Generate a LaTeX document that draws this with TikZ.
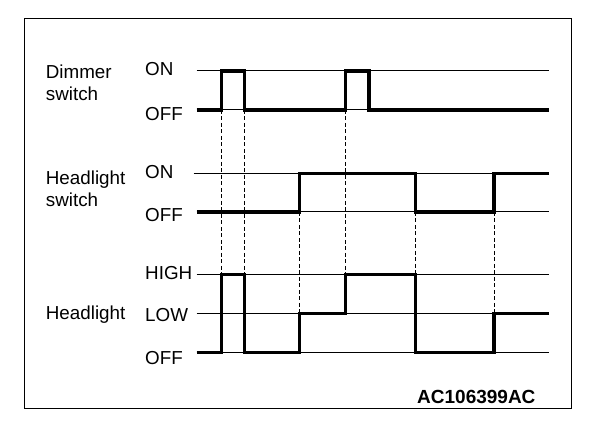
\documentclass[tikz,border=0pt]{standalone}
\usepackage{fontspec}
\setsansfont{Liberation Sans}
\usetikzlibrary{positioning}

\begin{document}
\begin{tikzpicture}[x=1pt,y=-1pt,
 wave/.style={line width=3.2pt,line join=miter},
 levelline/.style={line width=1pt},
 guide/.style={line width=1.6pt,dash pattern=on 4pt off 2.5pt},
 guidethin/.style={line width=0.9pt,dash pattern=on 4pt off 2.5pt},
 lab/.style={font=\sffamily\fontsize{18.8}{22.5}\selectfont,anchor=base west,
 inner sep=0pt,align=left},
 tag/.style={font=\sffamily\bfseries\fontsize{19}{22}\selectfont,
 anchor=base west,inner sep=0pt}]
\useasboundingbox (0,0) rectangle (608,430);
\draw[line width=1.6pt] (24.5,18.5) rectangle (571.5,408.5);
% level lines
\foreach \y in {71,110,212,274.3,313.3,352.3}
 \draw[levelline] (196.7,\y) -- (549,\y);
\draw[levelline] (193.6,173.3) -- (549,173.3);
% guides between the charts
\draw[guide] (221.4,110) -- (221.4,274.3);
\draw[guidethin] (244.3,110) -- (244.3,274.3);
\draw[guide] (345.3,110) -- (345.3,274.3);
\draw[guide] (299.3,212) -- (299.3,313.3);
\draw[guidethin] (415.8,212) -- (415.8,274.3);
\draw[guidethin] (494,212) -- (494,313.3);
% dimmer switch
\draw[wave] (196.7,110) -- (221.4,110) -- (221.4,71) -- (244.3,71)
 -- (244.3,110) -- (345.3,110) -- (345.3,71) -- (369,71) -- (369,110)
 -- (549,110);
% headlight switch
\draw[wave] (196.7,212) -- (299.3,212) -- (299.3,173.3) -- (415.8,173.3)
 -- (415.8,212) -- (494,212) -- (494,173.3) -- (549,173.3);
% headlight
\draw[wave] (196.7,352.3) -- (221.4,352.3) -- (221.4,274.3) -- (244.3,274.3)
 -- (244.3,352.3) -- (299.3,352.3) -- (299.3,313.3) -- (345.3,313.3)
 -- (345.3,274.3) -- (415.8,274.3) -- (415.8,352.3) -- (494,352.3)
 -- (494,313.3) -- (549,313.3);
% labels
\node[lab] (dimlab) at (45.7,101) {Dimmer\\switch};
\node[lab] (hslab) at (45.7,207) {Headlight\\switch};
\node[lab] (hllab) at (45.7,319.3) {Headlight};
\node[lab] (dimon) at (145,75.3) {ON};
\node[lab] (dimoff) at (145,120.7) {OFF};
\node[lab] (hson) at (145,179) {ON};
\node[lab] (hsoff) at (145,221.7) {OFF};
\node[lab] (hlhigh) at (145,279.3) {HIGH};
\node[lab] (hllow) at (145,321.7) {LOW};
\node[lab] (hloff) at (145,365) {OFF};
\node[tag] (code) at (417,403.3) {AC106399AC};
\end{tikzpicture}
\end{document}
